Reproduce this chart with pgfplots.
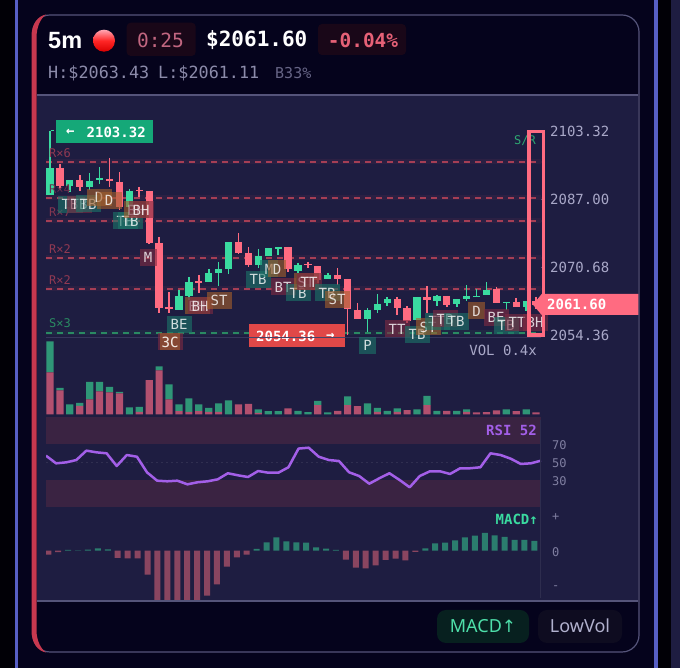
\documentclass[border=0pt]{standalone}
\usepackage{pgfplots}
\usepackage{pgfplotstable}
\usepackage{fontspec}
\pgfplotsset{compat=1.18}
\setmainfont{Noto Sans}
\newfontfamily\mono{DejaVu Sans Mono}
\newfontfamily\djv{DejaVu Sans}
\newfontfamily\hd{Liberation Sans}
\newcommand\fs[1]{\fontsize{#1}{#1}\selectfont}
\definecolor{blk}{HTML}{010006}
\definecolor{navy}{HTML}{05031C}
\definecolor{panel}{HTML}{1E1D41}
\definecolor{edge}{HTML}{55547A}
\definecolor{blueln}{HTML}{575FC4}
\definecolor{cgreen}{HTML}{3ADBA0}
\definecolor{cred}{HTML}{FF6B81}
\definecolor{vred}{HTML}{B2506F}
\definecolor{vgreen}{HTML}{2F9677}
\definecolor{mred}{HTML}{8A4560}
\definecolor{mgreen}{HTML}{2B7D6E}
\definecolor{band}{HTML}{3A2342}
\definecolor{rsi}{HTML}{A35FE8}
\definecolor{tickc}{HTML}{A9A8C8}
\definecolor{tickd}{HTML}{7F7EA0}
\definecolor{tagT}{HTML}{1C7468}
\definecolor{tagO}{HTML}{A35F2C}
\definecolor{tagR}{HTML}{7E2B42}
\definecolor{srred}{HTML}{A53E55}
\definecolor{srgrn}{HTML}{2A8A62}
\definecolor{srtxt}{HTML}{2EA872}
\definecolor{leftred}{HTML}{C8384F}
\definecolor{flaggrn}{HTML}{15A878}
\definecolor{flagred}{HTML}{E04848}
\definecolor{darkred}{HTML}{190718}
\definecolor{darkpill}{HTML}{07201F}
\definecolor{greypill}{HTML}{0E0C20}

% Candles: index, wick high, body top, body bottom, wick low (price)
\pgfplotstableread{
i hi top bot lo
0 2103.32 2094.44 2087.96 2087.96
2 2091.56 2091.56 2090.12 2088.68
4 2093.24 2091.32 2089.88 2089.16
5 2094.68 2092.04 2091.56 2090.60
8 2089.40 2088.92 2085.08 2084.84
13 2065.16 2063.72 2060.36 2060.36
14 2068.28 2067.08 2063.72 2062.76
16 2070.20 2069.24 2067.08 2067.08
17 2071.88 2070.20 2069.24 2066.12
18 2076.68 2076.68 2070.20 2068.98
21 2075.00 2073.32 2071.16 2070.44
22 2075.24 2075.24 2073.32 2073.32
23 2075.48 2075.48 2075.00 2073.56
25 2071.64 2071.16 2069.72 2069.24
28 2069.24 2068.76 2067.80 2067.80
32 2060.84 2060.36 2058.20 2055.08
33 2064.20 2061.80 2060.36 2059.64
34 2063.48 2063.00 2062.04 2061.32
37 2063.48 2063.48 2057.96 2057.96
39 2063.96 2063.72 2062.52 2061.32
41 2063.00 2063.00 2061.80 2061.08
42 2066.36 2063.72 2063.00 2062.52
43 2065.40 2063.72 2063.48 2063.48
44 2067.08 2065.16 2063.96 2063.96
46 2062.28 2062.28 2062.04 2060.36
48 2062.52 2062.52 2061.08 2060.12
}\greencandles
\pgfplotstableread{
i hi top bot lo
1 2095.40 2094.44 2090.12 2089.16
3 2092.76 2091.56 2089.88 2088.92
6 2096.84 2091.80 2091.32 2089.88
7 2093.48 2091.08 2085.08 2084.36
9 2089.88 2089.16 2088.92 2087.48
10 2088.92 2088.92 2076.44 2076.20
11 2077.88 2076.44 2060.84 2059.64
12 2064.68 2061.08 2060.60 2059.64
15 2068.76 2067.32 2066.84 2064.44
19 2078.84 2076.68 2074.04 2073.80
20 2075.48 2074.04 2071.16 2070.68
24 2075.48 2075.48 2070.20 2069.48
26 2071.88 2071.40 2071.16 2070.44
27 2070.92 2070.92 2067.56 2066.84
29 2070.44 2068.76 2067.80 2066.36
30 2067.80 2067.80 2060.60 2054.36
31 2062.04 2060.36 2058.20 2058.20
35 2063.48 2063.00 2060.84 2059.16
36 2061.32 2060.84 2057.72 2057.24
38 2066.12 2063.48 2062.76 2059.64
40 2063.72 2063.72 2061.56 2061.08
45 2065.88 2065.40 2062.04 2062.04
47 2063.24 2062.28 2061.08 2061.08
49 2063.48 2062.52 2061.60 2060.60
}\redcandles
% Volume: sell and buy parts
\pgfplotstableread{
i sell buy
0 42 31
1 24 2.5
2 0 10
3 8.7 3
4 15 17.7
5 23 9.7
6 22 5.7
7 21 1.5
8 0 7
9 2.7 5
10 34.3 0
11 44 4
12 15 15
13 3.3 6.7
14 2.7 13.3
15 3.3 6.7
16 2.7 4
17 2.7 8.3
18 0 14
19 10 0
20 10.7 0
21 1.7 3.3
22 0 3.3
23 0 3.3
24 6 0
25 0 3.7
26 0 2.3
27 9.3 4.4
28 0 2
29 3.7 0
30 9.3 8.7
31 8.3 0
32 0 11
33 2.7 4
34 0 3.7
35 2.7 3.3
36 4.3 0
37 0 5
38 9.3 9.4
39 0 3.7
40 3.7 0
41 0 3.7
42 2.7 2.3
43 2 0
44 2.3 0
45 4 0
46 0 5
47 3.3 0
48 0 5
49 2 0
}\voltable
\pgfplotstableread{
i v
0 57
1 48.5
2 49.6
3 52.2
4 62.7
5 60.8
6 59.7
7 45.5
8 57.8
9 55.9
10 38.4
11 29.1
12 28.4
13 29.1
14 25
15 27.3
16 28.4
17 30.6
18 37.4
19 35.1
20 33.2
21 39.9
22 38
23 38
24 44.1
25 65
26 66
27 55.9
28 52.2
29 51.1
30 38.5
31 34.3
32 25.7
33 31.8
34 37.4
35 29.9
36 21.7
37 34.3
38 39.6
39 39.6
40 36.6
41 43
42 43
43 44.1
44 59.7
45 57.8
46 53.7
47 47.8
48 48.5
49 51.5
}\rsitable
\pgfplotstableread{
i v
2 0.7
3 0.3
4 1
5 2.3
6 1.3
21 1.7
22 8.3
23 13.3
24 9.3
25 8.3
26 8
27 3.3
28 2
29 0.7
38 2.3
39 7.3
40 8
41 10.3
42 13.3
43 15
44 17.7
45 15.3
46 13.7
47 10.7
48 10.7
49 9.7
}\macdpos
\pgfplotstableread{
i v
0 -4
1 -1.5
7 -7.3
8 -7.7
9 -7.7
10 -24
11 -55
12 -62
13 -65
14 -60
15 -52
16 -45
17 -33.7
18 -16
19 -6.7
20 -4
30 -9
31 -17
32 -17.7
33 -14.7
34 -9.3
35 -8
36 -9.7
37 -1.3
}\macdneg

\pgfplotsset{panelaxis/.style={
  scale only axis, anchor=north west, clip=true,
  axis x line=none, axis y line*=right,
  axis line style={draw=none},
  xtick=\empty, tick align=outside,
  major tick length=4pt,
  ytick style={draw=edge,line width=.6pt},
  yticklabel style={anchor=west,inner sep=0pt,xshift=5pt},
}}
\tikzset{
 px/.style={x=1pt,y=-1pt,yshift=668pt},
 tagbox/.style={minimum height=17pt,inner sep=0pt,text=white,text opacity=.8,
   fill opacity=.62,font=\mono\fs{14}},
 tT/.style={tagbox,fill=tagT,minimum width=25pt},
 tO/.style={tagbox,fill=tagO,minimum width=25pt},
 tR/.style={tagbox,fill=tagR,minimum width=25pt},
 srl/.style={font=\mono\fs{12},anchor=west,inner sep=0pt},
}
\begin{document}
\begin{tikzpicture}
\useasboundingbox (0pt,0pt) rectangle (680pt,668pt);
\begin{scope}[px]
% page background
\fill[navy] (0,0) rectangle (680,668);
\fill[blk] (0,0) rectangle (14.5,668);
\fill[blueln] (14.5,0) rectangle (18,668);
\fill[blk] (658,0) rectangle (671,668);
\fill[blueln] (654,0) rectangle (657.8,668);
\fill[panel] (671,0) rectangle (680,668);
% card
\draw[edge,line width=1.2pt,fill=navy,rounded corners=17pt] (33,15) rectangle (639,652);
\fill[panel] (36.5,95) rectangle (638.3,601);
\draw[edge,line width=1.1pt] (36.5,95) -- (638.3,95);
\draw[edge,line width=1.1pt] (36.5,601) -- (638.3,601);
\fill[leftred] (31.5,36) .. controls (31.5,24) and (38,16) .. (46,14.5)
  .. controls (41,18) and (36.5,26) .. (36.5,38) -- (36.5,630)
  .. controls (36.5,641) and (41,649) .. (46,652.5)
  .. controls (38,651) and (31.5,643) .. (31.5,631) -- cycle;
% header
\node[anchor=west,inner sep=0pt,text=white,font=\hd\bfseries\fs{23.5}] at (48,40.5) {5m};
\shade[top color=cred!60!white,bottom color=red!85!black,middle color=red!85!white] (104,40.7) circle (11);
\fill[darkred,rounded corners=4pt] (126.7,22.7) rectangle (195.7,56);
\node[anchor=center,inner sep=0pt,text=cred!68!tickd!90!navy,font=\mono\fs{19.5}] at (160.5,40) {0:25};
\node[anchor=west,inner sep=0pt,text=white,font=\mono\bfseries\fs{21}] at (206,40) {\$2061.60};
\fill[darkred,rounded corners=4pt] (318,24) rectangle (406,55);
\node[anchor=center,inner sep=0pt,text=cred!90!navy,font=\mono\bfseries\fs{19.4}] at (363,40) {-0.04\%};
\node[anchor=west,inner sep=0pt,text=tickd!90!white,font=\mono\fs{16.8}] at (48,73.5) {H:\$2063.43};
\node[anchor=west,inner sep=0pt,text=tickd!90!white,font=\mono\fs{16.8}] at (158,73.5) {L:\$2061.11};
\node[anchor=west,inner sep=0pt,text=tickd!80!navy,font=\mono\fs{15}] at (275,73.5) {B33\%};
% footer pills
\fill[darkpill,rounded corners=9pt] (437,610) rectangle (529,643);
\node[inner sep=0pt,text=cgreen!90!white,font=\fs{18}] at (483,626) {MACD{\djv\fs{17}↑}};
\fill[greypill,rounded corners=9pt] (538,610) rectangle (622,643);
\node[inner sep=0pt,text=tickc!90!white,font=\fs{18}] at (580,626) {LowVol};
\end{scope}

% price panel
\begin{axis}[panelaxis, at={(46pt,543pt)}, width=495pt, height=218pt,
  xmin=-0.403, xmax=49.496, ymin=2052.44, ymax=2104.76,
  ytick={2054.36,2070.68,2087.00,2103.32},
  yticklabels={2054.36,2070.68,2087.00,2103.32},
  yticklabel style={font=\mono\fs{14},text=tickc}]
\addplot[line width=5pt,draw=srred,opacity=.10,forget plot] coordinates {(-0.4,2095.88)(49.5,2095.88)};
\addplot[line width=5pt,draw=srred,opacity=.10,forget plot] coordinates {(-0.4,2087.24)(49.5,2087.24)};
\addplot[line width=5pt,draw=srred,opacity=.10,forget plot] coordinates {(-0.4,2081.72)(49.5,2081.72)};
\addplot[line width=5pt,draw=srred,opacity=.10,forget plot] coordinates {(-0.4,2072.84)(49.5,2072.84)};
\addplot[line width=5pt,draw=srred,opacity=.10,forget plot] coordinates {(-0.4,2065.40)(49.5,2065.40)};
\addplot[line width=5pt,draw=srgrn,opacity=.10,forget plot] coordinates {(-0.4,2054.84)(49.5,2054.84)};
\addplot[line width=1.2pt,draw=srred,dash pattern=on 6pt off 5pt] coordinates {(-0.4,2095.88)(49.5,2095.88)};
\addplot[line width=1.2pt,draw=srred,dash pattern=on 6pt off 5pt] coordinates {(-0.4,2087.24)(49.5,2087.24)};
\addplot[line width=1.2pt,draw=srred,dash pattern=on 6pt off 5pt] coordinates {(-0.4,2081.72)(49.5,2081.72)};
\addplot[line width=1.2pt,draw=srred,dash pattern=on 6pt off 5pt] coordinates {(-0.4,2072.84)(49.5,2072.84)};
\addplot[line width=1.2pt,draw=srred,dash pattern=on 6pt off 5pt] coordinates {(-0.4,2065.40)(49.5,2065.40)};
\addplot[line width=1.2pt,draw=srgrn,dash pattern=on 6pt off 5pt] coordinates {(-0.4,2054.84)(49.5,2054.84)};
\addplot[line width=.6pt,draw=edge!45!panel] coordinates {(-0.4,2053.76)(49.5,2053.76)};
\addplot[draw=none,error bars/.cd,y dir=minus,y explicit,error mark=none,
  error bar style={draw=cgreen,line width=1.6pt,solid}]
  table[x=i,y=hi,y error expr=\thisrow{hi}-\thisrow{lo}]{\greencandles};
\addplot[draw=none,error bars/.cd,y dir=minus,y explicit,error mark=none,
  error bar style={draw=cgreen,line width=7.3pt,solid}]
  table[x=i,y=top,y error expr=\thisrow{top}-\thisrow{bot}]{\greencandles};
\addplot[draw=none,error bars/.cd,y dir=minus,y explicit,error mark=none,
  error bar style={draw=cred,line width=1.6pt,solid}]
  table[x=i,y=hi,y error expr=\thisrow{hi}-\thisrow{lo}]{\redcandles};
\addplot[draw=none,error bars/.cd,y dir=minus,y explicit,error mark=none,
  error bar style={draw=cred,line width=7.3pt,solid}]
  table[x=i,y=top,y error expr=\thisrow{top}-\thisrow{bot}]{\redcandles};
\end{axis}

% volume panel
\begin{axis}[panelaxis, at={(46pt,326pt)}, width=495pt, height=72.5pt,
  xmin=-0.403, xmax=49.496, ymin=0, ymax=72.5, ytick=\empty,
  ybar stacked, bar width=7.2pt]
\addplot[fill=vred,draw=none] table[x=i,y=sell]{\voltable};
\addplot[fill=vgreen,draw=none] table[x=i,y=buy]{\voltable};
\end{axis}

% RSI panel
\begin{axis}[panelaxis, at={(46pt,250.7pt)}, width=495pt, height=89.4pt,
  xmin=0, xmax=49, ymin=0, ymax=100,
  ytick={30,50,70}, yticklabels={30,50,70},
  major tick length=0pt,
  yticklabel style={font=\mono\fs{12},text=tickd,xshift=6pt,yshift=-1.2pt}]
\addplot[fill=band,draw=none] coordinates {(0,70)(49,70)(49,100)(0,100)} --cycle;
\addplot[fill=band,draw=none] coordinates {(0,0)(49,0)(49,30)(0,30)} --cycle;
\addplot[draw=panel!92!white,line width=.5pt,dash pattern=on 2pt off 3pt] coordinates {(0,50)(49,50)};
\addplot[rsi,line width=2.5pt,line join=round] table[x=i,y=v]{\rsitable};
\end{axis}

% MACD panel
\begin{axis}[panelaxis, at={(46pt,158pt)}, width=495pt, height=90pt,
  xmin=-0.232, xmax=49.667, ymin=-49.3, ymax=40.7,
  ytick={-36.6,-1,33.7}, yticklabels={-,0,+},
  major tick length=0pt,
  yticklabel style={font=\mono\fs{12},text=tickd,xshift=6pt},
  ybar, bar width=6pt]
\addplot[fill=mgreen,draw=none,bar shift=0pt] table[x=i,y=v]{\macdpos};
\addplot[fill=mred,draw=none,bar shift=0pt] table[x=i,y=v]{\macdneg};
\end{axis}

\begin{scope}[px]
\draw[panel!93!white,line width=.8pt] (540.7,420) -- (540.7,598);
% level labels
\node[srl,text=srred!85!panel] at (49,153) {R×6};
\node[srl,text=srred!55!panel] at (49,189) {R×4};
\node[srl,text=srred!75!panel] at (49,212) {R×7};
\node[srl,text=srred!85!panel] at (49,249) {R×2};
\node[srl,text=srred!85!panel] at (49,280) {R×2};
\node[srl,text=srgrn] at (49,323) {S×3};
\node[srl,text=srtxt] at (514,141) {S/R};

% pattern tags
\node[tT] at (70,204.5) {TB};
\node[tR] at (79,204.5) {TB};
\node[tT] at (88,204) {TB};
\node[tO] at (99,197.5) {D};
\node[tO] at (109,200.5) {D};
\node[tT] at (125,221) {TB};
\node[tT] at (130,221) {TB};
\node[tO] at (136,210) {BH};
\node[tR] at (141,210) {BH};
\node[tR,minimum width=17pt] at (148,257.5) {M};
\node[tO] at (197,306) {BH};
\node[tR] at (200,306) {BH};
\node[tO] at (219,300.5) {ST};
\node[tT] at (179,324.5) {BE};
\node[tR] at (170,342) {3C};
\node[tO,minimum width=20pt] at (170,342) {3C};
\node[tT] at (258,279.5) {TB};
\node[tT,minimum width=18pt] at (269,269) {M};
\node[tO,minimum width=18pt] at (277,269) {D};
\node[tR] at (283,287) {BT};
\node[tT] at (298,293) {TB};
\node[tO] at (306,282) {ST};
\node[tR] at (309,282) {TT};
\node[tT] at (327,293) {TB};
\node[tO] at (337,299.5) {ST};
\node[tT,minimum width=17pt] at (367.5,345.5) {P};
\node[tR] at (397,329) {TT};
\node[tT] at (417,334.5) {TB};
\node[tO] at (428,327) {ST};
\node[tT] at (437,321.5) {TT};
\node[tR] at (445,319) {TB};
\node[tT] at (456,321.5) {TB};
\node[tO,minimum width=17pt] at (476.5,311) {D};
\node[tR] at (496,317.5) {BE};
\node[tT] at (506,325.5) {TB};
\node[tR] at (517,322.5) {TT};
\node[tR] at (535,322.5) {BH};

% last-bar frame
\draw[cred,line width=3.3pt] (529,131.7) rectangle (543.3,335);

% price flags
\fill[flaggrn] (56,120) rectangle (152.7,143.3);
\node[anchor=west,inner sep=0pt,text=white,font=\mono\bfseries\fs{14}] at (66,132) {←};
\node[anchor=west,inner sep=0pt,text=white,font=\mono\bfseries\fs{14}] at (86.5,132) {2103.32};
\draw[cgreen,line width=1pt] (50.5,131) -- (54,131);
\fill[flagred] (249.3,324.3) rectangle (345,346.7);
\node[anchor=west,inner sep=0pt,text=white,font=\mono\bfseries\fs{14}] at (256,336) {2054.36};
\node[anchor=west,inner sep=0pt,text=white,font=\mono\bfseries\fs{14}] at (326,336) {→};
\draw[edge!70!panel,line width=.7pt] (249.3,337.5) -- (345,337.5);
\fill[cred] (533,304.7) -- (541.7,294) -- (638.3,294) -- (638.3,315) -- (541.7,315) -- cycle;
\node[anchor=west,inner sep=0pt,text=white,font=\mono\bfseries\fs{14}] at (547,304.7) {2061.60};

% panel captions
\node[anchor=east,inner sep=0pt,text=tickc,font=\mono\fs{14}] at (537,350) {VOL 0.4x};
\node[anchor=east,inner sep=0pt,text=rsi,font=\mono\bfseries\fs{14}] at (537,430.7) {RSI 52};
\node[anchor=east,inner sep=0pt,text=cgreen,font=\mono\bfseries\fs{14}] at (538,519) {MACD↑};
\end{scope}
\end{tikzpicture}
\end{document}
